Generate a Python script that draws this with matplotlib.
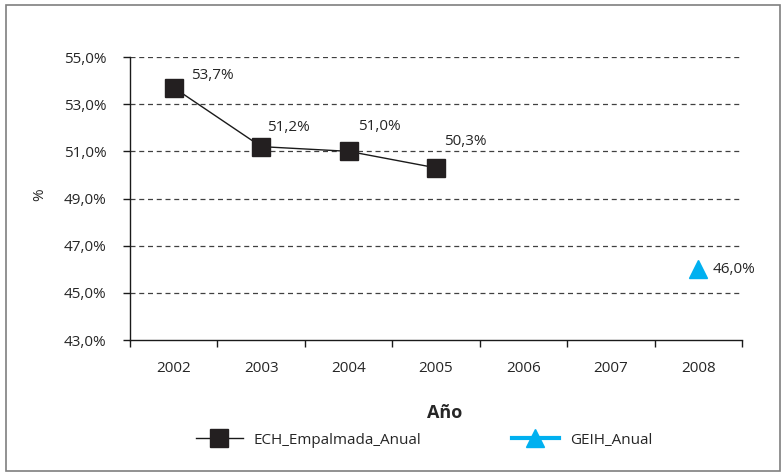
import numpy as np
import matplotlib
matplotlib.use("Agg")
import matplotlib.pyplot as plt
from matplotlib.patches import Rectangle
from matplotlib.ticker import FixedLocator, FuncFormatter

# === Données ===
years = ["2002", "2003", "2004", "2005", "2006", "2007", "2008"]
ech_years = ["2002", "2003", "2004", "2005"]
ech_values = [53.7, 51.2, 51.0, 50.3]
geih_years = ["2008"]
geih_values = [46.0]

# décalages des étiquettes (points)
ech_offsets = [(28, 9), (20, 14), (22, 18), (21, 19)]
geih_offsets = [(26, 0)]

TXT = "#262626"
BLUE = "#00B0F0"
plt.rcParams["font.family"] = ["Open Sans", "DejaVu Sans"]
plt.rcParams["font.size"] = 11

fig = plt.figure(figsize=(7.82, 4.73), dpi=100)
ax = fig.add_axes([130 / 782, 1 - 340 / 473, 612 / 782, 283 / 473])

# cadre extérieur
fig.patches.append(Rectangle((6 / 782, 1 - 471 / 473), 774 / 782, 466 / 473,
                             transform=fig.transFigure, fill=False,
                             edgecolor="#7f7f7f", lw=1.2))

xpos = {y: i for i, y in enumerate(years)}
ex = [xpos[y] for y in ech_years]
gx = [xpos[y] for y in geih_years]

ax.plot(ex, ech_values, color="#1a1a1a", lw=1, marker="s", ms=12.5,
        mfc="#231f20", mec="#231f20", label="ECH_Empalmada_Anual", zorder=3)
ax.plot(gx, geih_values, color=BLUE, lw=3, marker="^", ms=12.5,
        mfc=BLUE, mec=BLUE, label="GEIH_Anual", zorder=3)

fmt = lambda v: f"{v:.1f}%".replace(".", ",")
for x, v, off in zip(ex, ech_values, ech_offsets):
    ax.annotate(fmt(v), (x, v), xytext=off, textcoords="offset points",
                ha="center", va="center", color=TXT)
for x, v, off in zip(gx, geih_values, geih_offsets):
    ax.annotate(fmt(v), (x, v), xytext=off, textcoords="offset points",
                ha="center", va="center", color=TXT)

# axes
ax.set_xlim(-0.5, len(years) - 0.5)
ax.set_ylim(43, 55)
ax.set_yticks(np.arange(43, 55.1, 2))
ax.yaxis.set_major_formatter(FuncFormatter(lambda v, p: fmt(v)))
ax.xaxis.set_major_locator(FixedLocator(np.arange(-0.5, len(years), 1)))
ax.xaxis.set_minor_locator(FixedLocator(np.arange(len(years))))
ax.set_xticklabels([], minor=False)
ax.set_xticklabels(years, minor=True)
ax.tick_params(axis="x", which="major", direction="out", length=5, width=1, color="#1a1a1a")
ax.tick_params(axis="x", which="minor", length=0, pad=15, colors=TXT)
ax.tick_params(axis="y", direction="out", length=5, width=1, color="#1a1a1a",
               pad=12, labelcolor=TXT)

for s in ["top", "right"]:
    ax.spines[s].set_visible(False)
for s in ["left", "bottom"]:
    ax.spines[s].set_color("#1a1a1a")
    ax.spines[s].set_linewidth(1)

for g in np.arange(45, 55.1, 2):
    ax.axhline(g, color="#404040", lw=0.9, ls=(0, (4, 3)), zorder=1)

fig.text(445 / 782, 1 - 413 / 473, "Año", ha="center", va="center",
         fontsize=13, fontweight="bold", color=TXT)
fig.text(40 / 782, 1 - 195 / 473, "%", ha="center", va="center",
         rotation=90, color=TXT)

fig.legend(loc="center", bbox_to_anchor=(424 / 782, 1 - 440 / 473), ncol=2,
           frameon=False, handlelength=3.1, handletextpad=0.7,
           columnspacing=5.9, labelcolor=TXT)

fig.savefig("out.png", dpi=100)
